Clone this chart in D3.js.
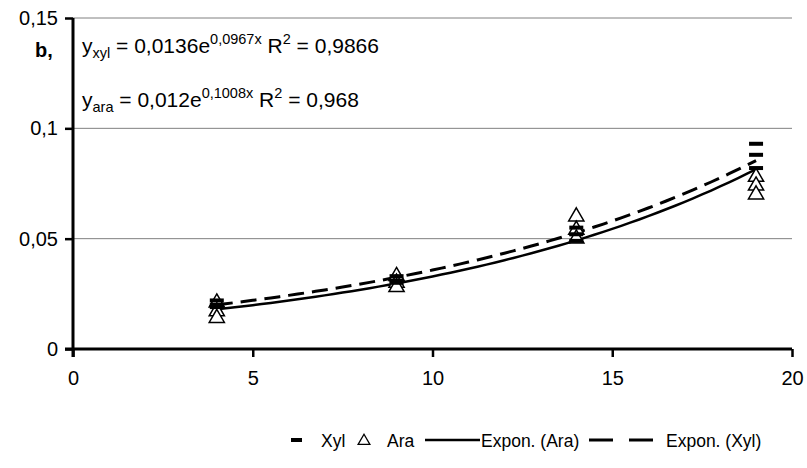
<!DOCTYPE html>
<html><head><meta charset="utf-8">
<script src="https://cdn.jsdelivr.net/npm/d3@7"></script>
<style>body{margin:0;background:#fff}svg{font-family:"Liberation Sans",Arial,sans-serif}</style>
</head><body><svg id="c" width="807" height="468"></svg>
<script>
const xylX = [4,4,4,9,9,9,14,14,14,19,19,19];
const xylY = [0.022,0.020,0.019,0.033,0.031,0.030,0.055,0.052,0.049,0.093,0.088,0.082];
const araX = [4,4,4,9,9,9,14,14,14,19,19,19];
const araY = [0.021,0.017,0.014,0.033,0.030,0.028,0.060,0.054,0.050,0.078,0.074,0.070];
const fitXyl = [0.0136, 0.0967];
const fitAra = [0.012, 0.1008];
const xTicks = [0,5,10,15,20];
const yTicks = [0,0.05,0.1,0.15];
const yLabels = ["0","0,05","0,1","0,15"];

const svg = d3.select("#c");
const x = d3.scaleLinear().domain([0,20]).range([73,792]);
const y = d3.scaleLinear().domain([0,0.15]).range([349,18]);

// gridlines
svg.append("g").selectAll("line").data(yTicks.slice(1)).join("line")
  .attr("x1",x(0)).attr("x2",x(20)).attr("y1",d=>y(d)).attr("y2",d=>y(d))
  .attr("stroke","#808080").attr("stroke-width",1);

// axes
const ya = svg.append("g").attr("transform",`translate(${x(0)},0)`)
  .call(d3.axisLeft(y).tickValues(yTicks).tickFormat((d,i)=>yLabels[i]).tickSize(8).tickPadding(7));
const xa = svg.append("g").attr("transform",`translate(0,${y(0)})`)
  .call(d3.axisBottom(x).tickValues(xTicks).tickSize(8).tickPadding(14));
[ya,xa].forEach(a=>{
  a.attr("font-size",20).attr("font-family","Liberation Sans, Arial, sans-serif");
  a.select(".domain").attr("stroke","#000").attr("stroke-width",3);
  a.selectAll(".tick line").attr("stroke","#000").attr("stroke-width",2.5);
  a.selectAll("text").attr("fill","#000").style("font-size","20px");
});
ya.select(".domain").attr("d",`M0,${y(0.15)}V${y(0)+8}`);
xa.select(".domain").attr("d",`M${x(0)-8},0H${x(20)}`);

// trendlines
const xs = d3.range(4,19.001,0.25);
const line = d3.line().x(d=>x(d[0])).y(d=>y(d[1]));
svg.append("path").datum(xs.map(v=>[v,fitAra[0]*Math.exp(fitAra[1]*v)]))
  .attr("d",line).attr("fill","none").attr("stroke","#000").attr("stroke-width",2.5);
svg.append("path").datum(xs.map(v=>[v,fitXyl[0]*Math.exp(fitXyl[1]*v)]))
  .attr("d",line).attr("fill","none").attr("stroke","#000").attr("stroke-width",3)
  .attr("stroke-dasharray","16,8");

// markers
const tri = d3.symbol().type(d3.symbolTriangle).size(100);
svg.append("g").selectAll("path").data(araX.map((v,i)=>[v,araY[i]])).join("path")
  .attr("d",tri).attr("transform",d=>`translate(${x(d[0])},${y(d[1])})`)
  .attr("fill","#fff").attr("stroke","#000").attr("stroke-width",1.5);
svg.append("g").selectAll("rect").data(xylX.map((v,i)=>[v,xylY[i]])).join("rect")
  .attr("x",d=>x(d[0])-7).attr("y",d=>y(d[1])-2).attr("width",14).attr("height",4).attr("fill","#000");

// equations
function eq(yPos, sub, a, ex, r2){
  const t = svg.append("text").attr("x",82).attr("y",yPos).attr("font-size",21).attr("fill","#000");
  t.append("tspan").text("y");
  t.append("tspan").attr("font-size",14.5).attr("dy",5).text(sub);
  t.append("tspan").attr("dy",-5).text(" = "+a+"e");
  t.append("tspan").attr("font-size",14.5).attr("dy",-9).text(ex);
  t.append("tspan").attr("dy",9).text(" R");
  t.append("tspan").attr("font-size",14.5).attr("dy",-9).text("2");
  t.append("tspan").attr("dy",9).text(" = "+r2);
}
eq(53,"xyl","0,0136","0,0967x","0,9866");
eq(107,"ara","0,012","0,1008x","0,968");
svg.append("text").attr("x",35).attr("y",57).attr("font-size",20).attr("font-weight","bold").text("b,");

// legend
const ly = 440;
const lg = svg.append("g").attr("font-size",17.5);
lg.append("rect").attr("x",291).attr("y",ly-2).attr("width",11).attr("height",4).attr("fill","#000");
lg.append("text").attr("x",321).attr("y",ly+7).text("Xyl");
lg.append("path").attr("d",d3.symbol().type(d3.symbolTriangle).size(60)).attr("transform",`translate(364,${ly+1})`)
  .attr("fill","#fff").attr("stroke","#000").attr("stroke-width",1.3);
lg.append("text").attr("x",387).attr("y",ly+7).text("Ara");
lg.append("line").attr("x1",425).attr("x2",480).attr("y1",ly).attr("y2",ly).attr("stroke","#000").attr("stroke-width",2.5);
lg.append("text").attr("x",481).attr("y",ly+7).text("Expon. (Ara)");
lg.append("line").attr("x1",589).attr("x2",665).attr("y1",ly).attr("y2",ly).attr("stroke","#000").attr("stroke-width",3).attr("stroke-dasharray","24,16");
lg.append("text").attr("x",666).attr("y",ly+7).text("Expon. (Xyl)");
</script></body></html>
